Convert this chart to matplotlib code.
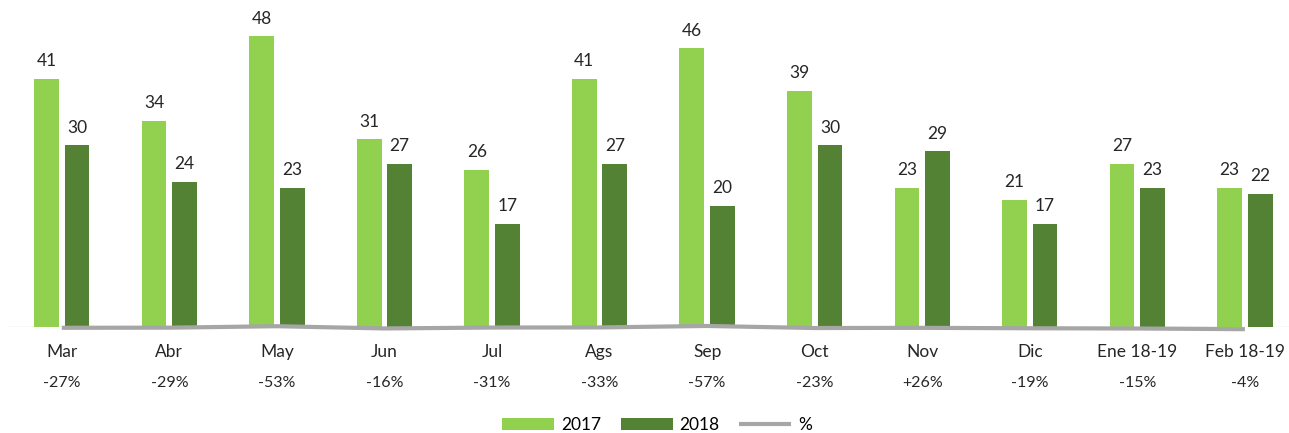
import matplotlib
matplotlib.use("Agg")
import matplotlib.pyplot as plt
import numpy as np

meses = ["Mar", "Abr", "May", "Jun", "Jul", "Ags", "Sep", "Oct", "Nov", "Dic", "Ene 18-19", "Feb 18-19"]
v2017 = [41, 34, 48, 31, 26, 41, 46, 39, 23, 21, 27, 23]
v2018 = [30, 24, 23, 27, 17, 27, 20, 30, 29, 17, 23, 22]
pct = [-27, -29, -53, -16, -31, -33, -57, -23, 26, -19, -15, -4]
pct_txt = ["-27%", "-29%", "-53%", "-16%", "-31%", "-33%", "-57%", "-23%", "+26%", "-19%", "-15%", "-4%"]

plt.rcParams['font.family'] = ['Lato', 'DejaVu Sans']

fig = plt.figure(figsize=(12.89, 4.33), dpi=100)
ax = fig.add_axes([8 / 1289, 106 / 433, 1281 / 1289, 327 / 433])

x = np.arange(len(meses))
w = 0.23
b1 = ax.bar(x - 0.142, v2017, w, color="#92D050", label="2017", zorder=2)
b2 = ax.bar(x + 0.142, v2018, w, color="#548235", label="2018", zorder=2)
# linea de % pegada al eje (casi cero en esta escala)
ln, = ax.plot(x, np.abs(pct) / 100 - 0.4, color="#A6A6A6", lw=3, label="%",
              zorder=3, solid_capstyle="butt", clip_on=False)

for bars in (b1, b2):
    ax.bar_label(bars, padding=7, fontsize=12.5, color="#262626")

ax.axhline(0, color="#D9D9D9", lw=1, zorder=1)
ax.set_xlim(-0.5, 11.41)
ax.set_ylim(0, 54)
ax.set_xticks(x)
ax.set_xticklabels(meses, fontsize=12.5, color="#262626")
ax.tick_params(axis="x", length=0, pad=12)
ax.set_yticks([])
for s in ax.spines.values():
    s.set_visible(False)

for i, t in enumerate(pct_txt):
    ax.annotate(t, (x[i], 0), xytext=(0, -40), textcoords="offset points",
                ha="center", va="center", fontsize=11.5, color="#262626")

fig.legend(handles=[b1, b2, ln], loc="center",
           bbox_to_anchor=(657 / 1289, 1 - 425 / 433), ncol=3,
           frameon=False, fontsize=12.5, handlelength=3.0, handleheight=0.7,
           columnspacing=1.1, handletextpad=0.4)

fig.savefig("out.png", dpi=100)
